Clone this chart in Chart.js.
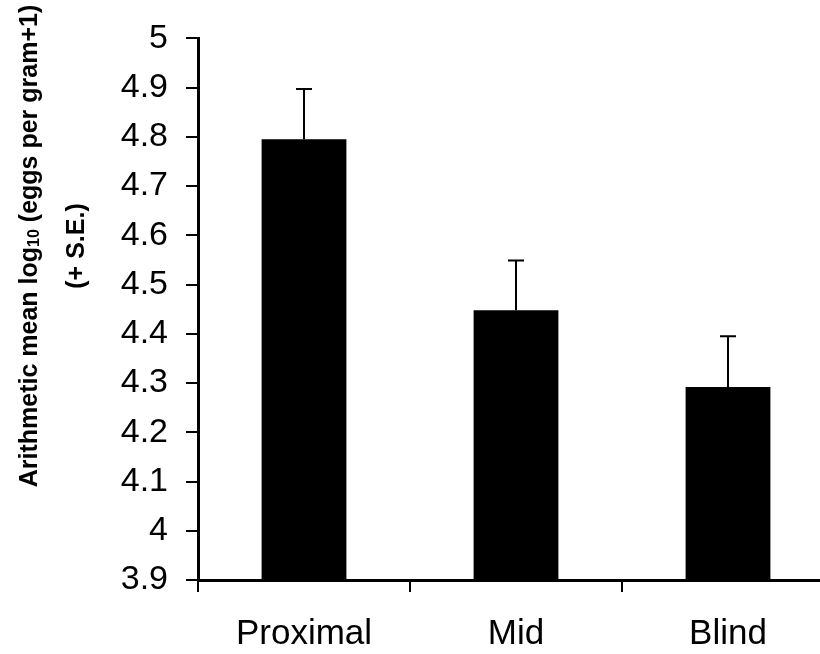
<!DOCTYPE html>
<html>
<head>
<meta charset="utf-8">
<script src="https://cdn.jsdelivr.net/npm/chart.js@4.4.1/dist/chart.umd.min.js"></script>
<style>
  html, body { margin: 0; padding: 0; background: #fff; overflow: hidden; }
  #wrap { position: relative; width: 834px; height: 654px; }
</style>
</head>
<body>
<div id="wrap"><canvas id="myChart" width="834" height="654"></canvas></div>
<script>
const sites = ['Proximal', 'Mid', 'Blind'];
const meanLogEpg = [4.795, 4.448, 4.292];
const stdErr = [0.102, 0.101, 0.103];
const yTicks = [3.9, 4, 4.1, 4.2, 4.3, 4.4, 4.5, 4.6, 4.7, 4.8, 4.9, 5];

const FONT = '"Liberation Sans", Arial, sans-serif';

// upper error bar (+ S.E.) above each bar
const errorBars = {
    id: 'errorBars',
    afterDatasetsDraw(chart) {
        const ctx = chart.ctx;
        const y = chart.scales.y;
        const meta = chart.getDatasetMeta(0);
        ctx.save();
        ctx.strokeStyle = '#000';
        ctx.lineWidth = 2;
        meta.data.forEach((bar, i) => {
            const top = y.getPixelForValue(meanLogEpg[i] + stdErr[i]);
            const base = y.getPixelForValue(meanLogEpg[i]);
            ctx.beginPath();
            ctx.moveTo(bar.x, base);
            ctx.lineTo(bar.x, top);
            ctx.moveTo(bar.x - 8, top);
            ctx.lineTo(bar.x + 8, top);
            ctx.stroke();
        });
        ctx.restore();
    }
};

// rotated two-line axis title with subscript
const yTitle = {
    id: 'yTitle',
    afterDraw(chart) {
        const ctx = chart.ctx;
        const cy = 246;
        ctx.save();
        ctx.fillStyle = '#000';
        ctx.textBaseline = 'middle';
        const big = 'bold 25px ' + FONT;
        const small = 'bold 16px ' + FONT;
        const parts = [
            ['Arithmetic mean log', big, 0],
            ['10', small, 5],
            [' (eggs per gram+1)', big, 0]
        ];
        let total = 0;
        parts.forEach(p => { ctx.font = p[1]; total += ctx.measureText(p[0]).width; });
        ctx.translate(30, cy);
        ctx.rotate(-Math.PI / 2);
        let x = -total / 2;
        ctx.textAlign = 'left';
        parts.forEach(p => {
            ctx.font = p[1];
            ctx.fillText(p[0], x, p[2]);
            x += ctx.measureText(p[0]).width;
        });
        ctx.font = big;
        ctx.textAlign = 'center';
        ctx.fillText('(+ S.E.)', 0, 47);
        ctx.restore();
    }
};

new Chart(document.getElementById('myChart'), {
    type: 'bar',
    data: {
        labels: sites,
        datasets: [{
            data: meanLogEpg,
            backgroundColor: '#000',
            borderWidth: 0,
            categoryPercentage: 1,
            barPercentage: 0.4
        }]
    },
    options: {
        responsive: false,
        animation: false,
        layout: { padding: { left: 0, top: 35, right: 0, bottom: 0 } },
        plugins: {
            legend: { display: false },
            tooltip: { enabled: false }
        },
        scales: {
            x: {
                grid: {
                    display: true,
                    offset: true,
                    drawOnChartArea: false,
                    drawTicks: true,
                    tickLength: 12,
                    color: '#000',
                    lineWidth: 2
                },
                border: { display: true, color: '#000', width: 3 },
                ticks: {
                    color: '#000',
                    font: { family: FONT, size: 35 },
                    padding: 21
                },
                afterFit(scale) { scale.height = 74; }
            },
            y: {
                min: 3.9,
                max: 5,
                afterBuildTicks(scale) {
                    scale.ticks = yTicks.map(v => ({ value: v }));
                },
                grid: {
                    display: true,
                    drawOnChartArea: false,
                    drawTicks: true,
                    tickLength: 12,
                    color: '#000',
                    lineWidth: 2
                },
                border: { display: true, color: '#000', width: 3 },
                ticks: {
                    color: '#000',
                    font: { family: FONT, size: 34 },
                    padding: 18,
                    callback: v => String(v)
                },
                afterFit(scale) { scale.width = 198; }
            }
        }
    },
    plugins: [errorBars, yTitle]
});
</script>
</body>
</html>
